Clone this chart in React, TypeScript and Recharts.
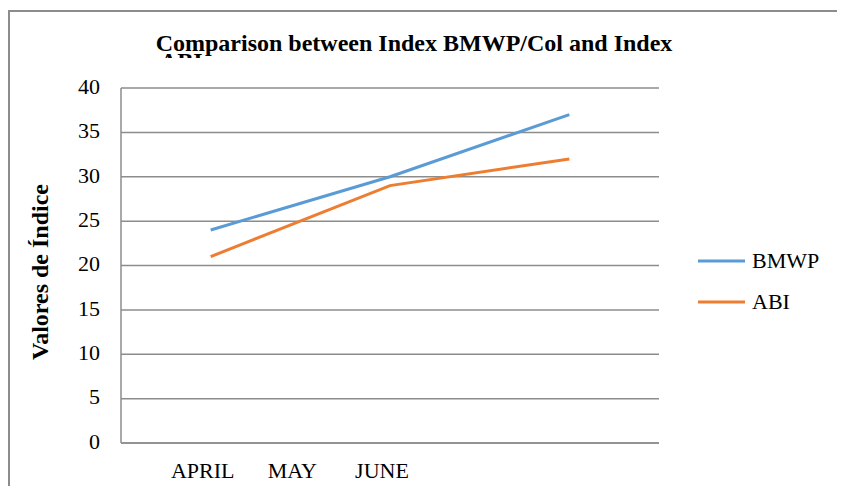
import { LineChart, Line, XAxis, YAxis, CartesianGrid, Legend } from 'recharts';

const MONTHS = ['APRIL', 'MAY', 'JUNE'];
const SERIES = ['BMWP', 'ABI'];
const BMWP = [24, 30, 37];
const ABI = [21, 29, 32];
const Y_TICKS = [0, 5, 10, 15, 20, 25, 30, 35, 40];
// where the reference prints its month labels (they sit closer together than the points)
const MONTH_TICKS = [0.5, 1, 1.5];

const SERIF = '"Liberation Serif", "Times New Roman", serif';
const GRID = '#8c8c8c';

const data = MONTHS.map((m, i) => ({ x: i + 0.5, month: m, BMWP: BMWP[i], ABI: ABI[i] }));

const renderLegend = (props: any) => {
  const items = [...props.payload].sort(
    (a: any, b: any) => SERIES.indexOf(a.value) - SERIES.indexOf(b.value),
  );
  return (
    <div>
      {items.map((entry: any) => (
        <div key={entry.value} style={{ display: 'flex', alignItems: 'center', height: 41 }}>
          <svg width={47} height={4}>
            <line x1={0} y1={2} x2={47} y2={2} stroke={entry.color} strokeWidth={3} />
          </svg>
          <span style={{ marginLeft: 7, fontFamily: SERIF, fontSize: 22, color: '#000' }}>{entry.value}</span>
        </div>
      ))}
    </div>
  );
};

export default function App() {
  return (
    <div style={{ position: 'relative', width: 829, height: 478, overflow: 'hidden', background: '#fff' }}>
      <div
        style={{
          position: 'absolute', left: 0, top: 2, width: 900, height: 600,
          borderTop: `2px solid ${GRID}`, borderLeft: `2px solid ${GRID}`,
        }}
      />
      <div style={{ position: 'absolute', left: 0, top: 0 }}>
        <LineChart width={837} height={486} data={data} margin={{ top: 80, right: 186, left: 0, bottom: 0 }}>
          <CartesianGrid vertical={false} stroke={GRID} strokeWidth={1.5} />
          <XAxis
            dataKey="x"
            type="number"
            domain={[0, 3]}
            ticks={MONTH_TICKS}
            tickFormatter={(v: number) => MONTHS[Math.round(v * 2) - 1]}
            height={51}
            tickSize={0}
            tickMargin={19}
            axisLine={{ stroke: GRID, strokeWidth: 1.5 }}
            tick={{ fill: '#000', fontSize: 22, fontFamily: SERIF, dx: -8 }}
          />
          <YAxis
            domain={[0, 40]}
            ticks={Y_TICKS}
            width={113}
            tickSize={0}
            tickMargin={21}
            axisLine={{ stroke: GRID, strokeWidth: 1.5 }}
            tick={{ fill: '#000', fontSize: 22, fontFamily: SERIF, dy: -2 }}
          />
          <Legend
            layout="vertical"
            align="center"
            verticalAlign="middle"
            content={renderLegend}
            wrapperStyle={{ left: 690, top: 232, width: 140 }}
          />
          <Line dataKey="BMWP" stroke="#5B9BD5" strokeWidth={3} dot={false} isAnimationActive={false} />
          <Line dataKey="ABI" stroke="#ED7D31" strokeWidth={3} dot={false} isAnimationActive={false} />
        </LineChart>
      </div>
      <svg width={837} height={486} style={{ position: 'absolute', left: 0, top: 0, pointerEvents: 'none' }}>
        <defs>
          <clipPath id="titleClip">
            <rect x={0} y={0} width={837} height={50} />
          </clipPath>
        </defs>
        <text x={406} y={43} textAnchor="middle" fontFamily={SERIF} fontWeight="bold" fontSize={24} fill="#000">
          Comparison between Index BMWP/Col and Index
        </text>
        <text x={152} y={61} fontFamily={SERIF} fontWeight="bold" fontSize={24} fill="#000" clipPath="url(#titleClip)">
          ABI
        </text>
        <text
          x={40}
          y={264}
          transform="rotate(-90 40 264)"
          textAnchor="middle"
          fontFamily={SERIF}
          fontWeight="bold"
          fontSize={24}
          fill="#000"
        >
          Valores de Índice
        </text>
      </svg>
    </div>
  );
}
